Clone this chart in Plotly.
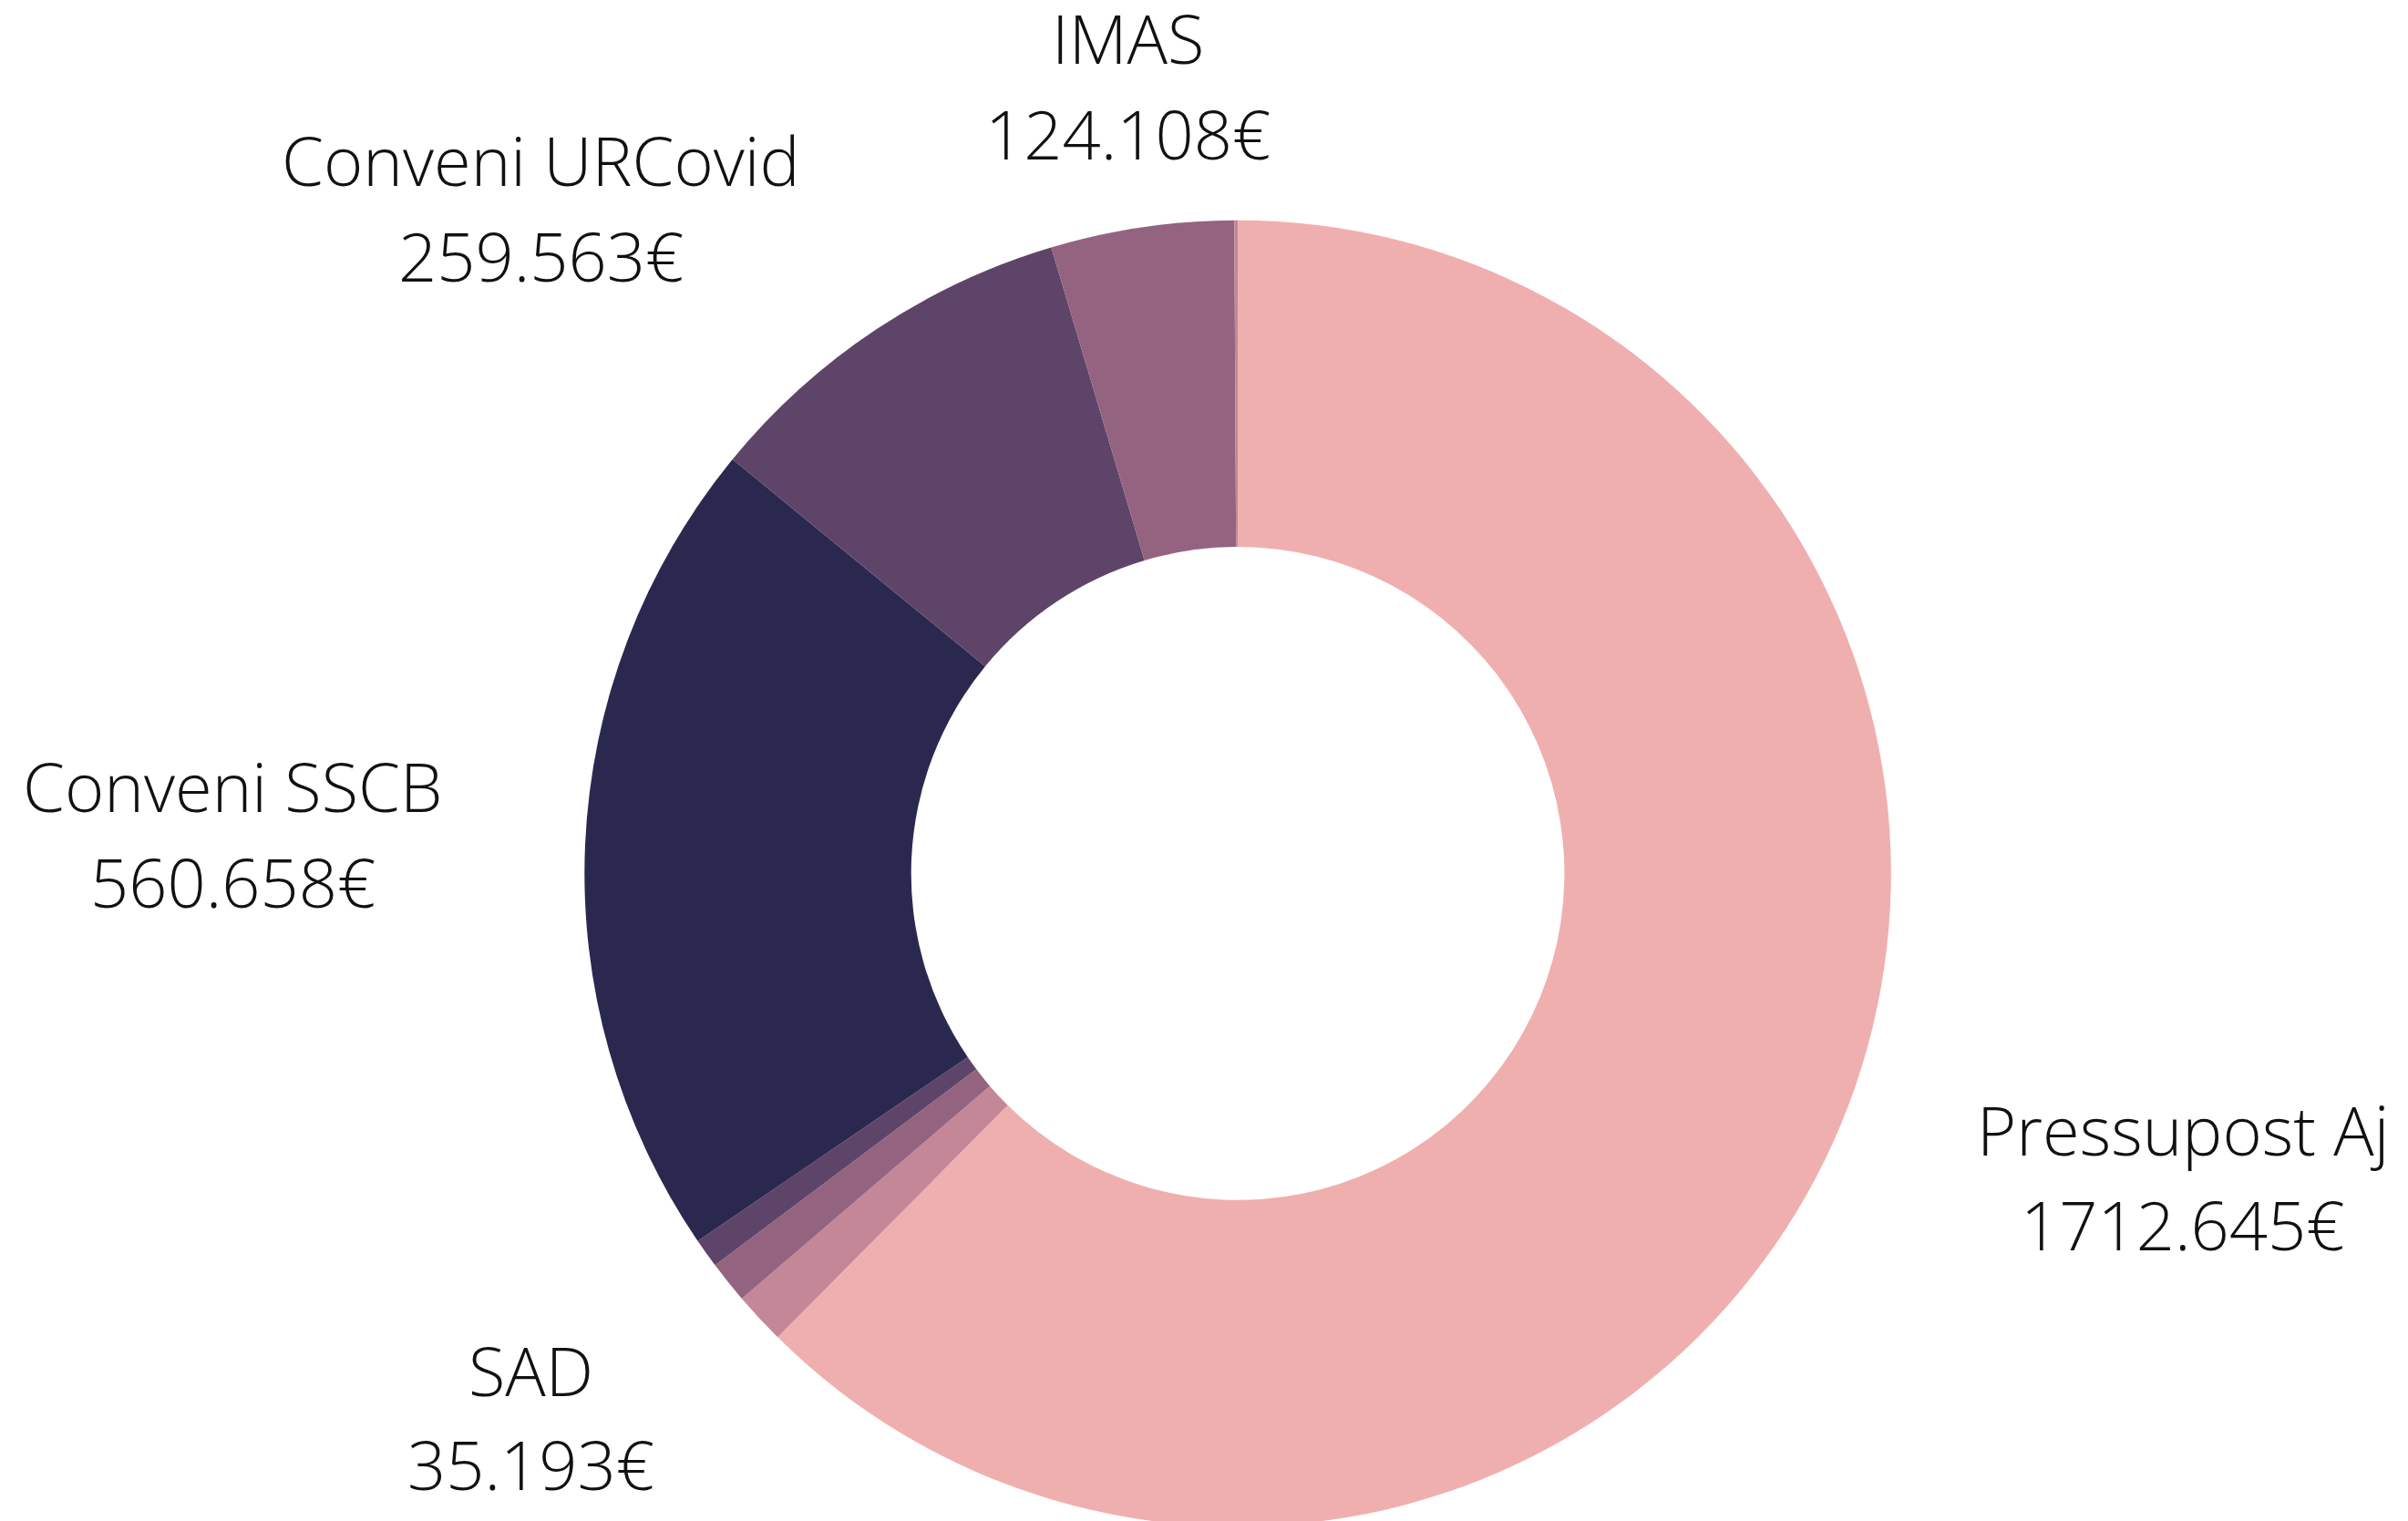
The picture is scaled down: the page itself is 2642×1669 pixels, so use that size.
import plotly.graph_objects as go

W, H = 2642, 1669

# slices, clockwise from 12 o'clock
labels = ["Pressupost Aj", "SAD", "Altres A", "Altres B",
          "Conveni SSCB", "Conveni URCovid", "IMAS", "Altres C"]
values = [1712.645, 35.193, 28.6, 19.9, 560.658, 259.563, 124.108, 2.3]
colors = ["#f0afaf", "#c48797", "#94637f", "#5f4469",
          "#2b2850", "#5f4469", "#94637f", "#c48797"]

# labelled slices -> (x centre, y of line 1, y of line 2) in px from top-left
label_pos = {
    "Pressupost Aj": (2387, 1231, 1335),
    "SAD": (574, 1495, 1598),
    "Conveni SSCB": (247, 855, 959),
    "Conveni URCovid": (585, 168, 272),
    "IMAS": (1229, 34, 138),
}

fig = go.Figure(go.Pie(
    labels=labels,
    values=values,
    hole=0.5,
    sort=False,
    direction="clockwise",
    rotation=0,
    textinfo="none",
    marker=dict(colors=colors, line=dict(width=0)),
    domain=dict(x=[0.2397, 0.7823], y=[0.0011, 0.8600]),
    showlegend=False,
))

font = dict(family="Open Sans", size=74, color="#111111", weight=300)
for name, val in zip(labels, values):
    if name not in label_pos:
        continue
    x, y1, y2 = label_pos[name]
    for txt, yy in ((name, y1), ("{:.3f}€".format(val), y2)):
        fig.add_annotation(
            x=x / W, y=1 - yy / H, xref="paper", yref="paper",
            xanchor="center", yanchor="middle",
            text=txt, showarrow=False, font=font,
        )

fig.update_layout(
    width=W, height=H,
    margin=dict(l=0, r=0, t=0, b=0),
    paper_bgcolor="white",
    plot_bgcolor="white",
)

fig.write_html("out.html")
